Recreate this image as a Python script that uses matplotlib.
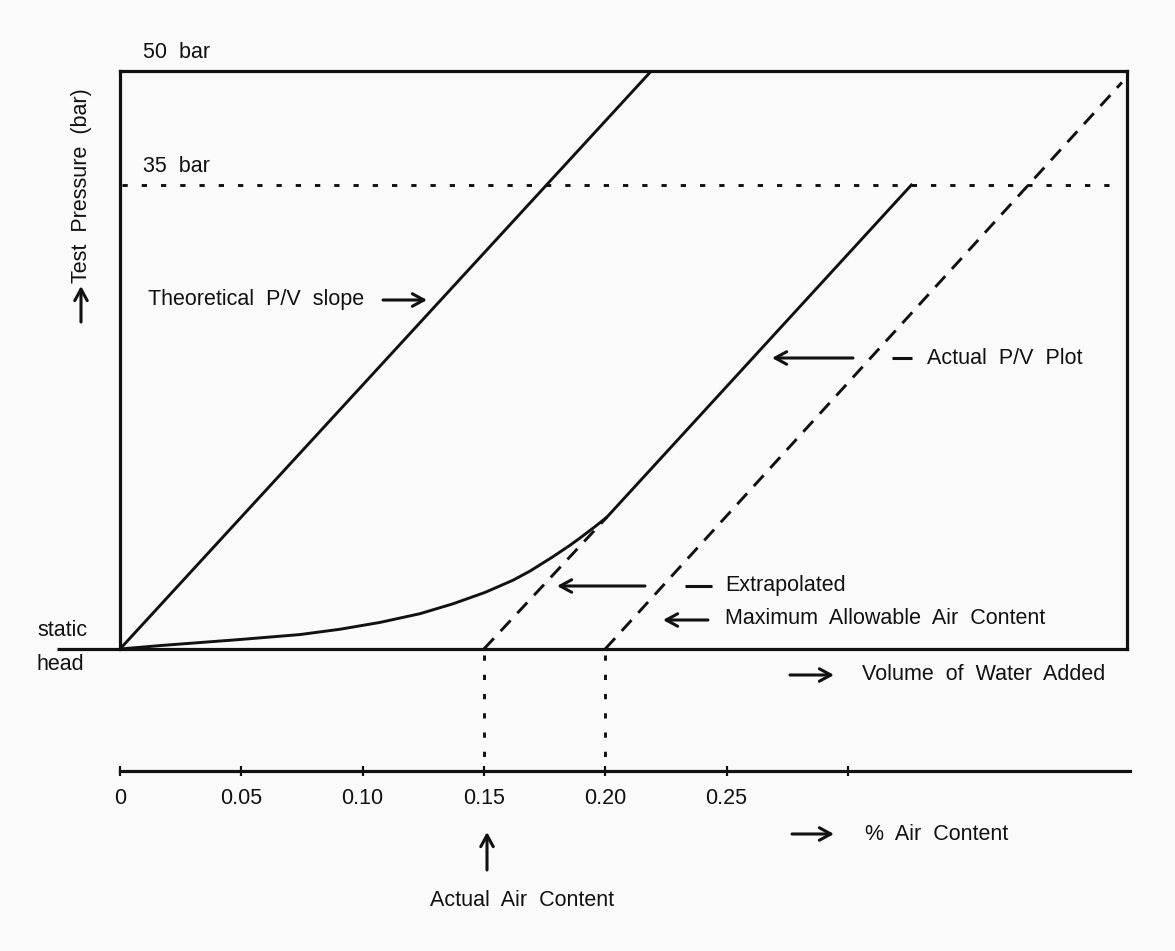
import matplotlib
matplotlib.use("Agg")
import matplotlib.pyplot as plt
from matplotlib.lines import Line2D
from matplotlib.patches import FancyArrowPatch
from matplotlib.transforms import blended_transform_factory

W, H, DPI = 1175, 951, 100

# Pressure levels (bar) on a linear schematic scale
p_static = -26.05
p_test = 35
p_top = 50

# % air content scale
air_ticks = [0, 0.05, 0.10, 0.15, 0.20, 0.25, 0.30]
air_labels = ["0", "0.05", "0.10", "0.15", "0.20", "0.25", ""]

# Theoretical pressure / volume slope
theory_x = [0.0, 0.219]
theory_p = [p_static, p_top]

# Measured pressure / volume curve
actual_x = [0.0, 0.0165, 0.0495, 0.0742, 0.0907, 0.1072, 0.1237, 0.1373, 0.1505,
            0.162, 0.169, 0.1785, 0.1855, 0.1896, 0.1958, 0.2007, 0.3262]
actual_p = [p_static, -25.6, -24.8, -24.15, -23.45, -22.55, -21.4, -20.1, -18.6,
            -17.0, -15.8, -13.9, -12.4, -11.45, -9.95, -8.7, p_test]

# Straight part of the measured curve extended back to static head
extrap_x = [0.15, 0.2007]
extrap_p = [p_static, -8.7]

# Slope through the maximum allowable air content
maxair_x = [0.20, 0.413]
maxair_p = [p_static, 48.5]

actual_air = 0.15
max_air = 0.20

INK = "#111111"
FONT = "Liberation Sans"
FS = 15.5
LW = 2.1

plt.rcParams["font.family"] = [FONT, "DejaVu Sans"]

fig = plt.figure(figsize=(W / DPI, H / DPI), dpi=DPI, facecolor="#fafafa")


def fx(px):
    return px / W


def fy(py):
    return 1 - py / H


PX_PER_UNIT = 2426.0
box_l, box_r, box_t, box_b = 120, 1127, 71, 649
scale_y = 771

ax = fig.add_axes([fx(box_l), fy(box_b), (box_r - box_l) / W, (box_b - box_t) / H])
ax.set_xlim(0, (box_r - box_l) / PX_PER_UNIT)
ax.set_ylim(p_static, p_top)
ax.set_facecolor("none")
ax.set_xticks([])
ax.set_yticks([])
for s in ax.spines.values():
    s.set_linewidth(2.3)
    s.set_color(INK)

# static head baseline extends to the left of the frame
ax.plot([-63 / PX_PER_UNIT, 0], [p_static, p_static], color=INK, lw=2.3,
        clip_on=False, solid_capstyle="butt")

# 35 bar test pressure
ax.plot([0.001, 0.413], [p_test, p_test], color=INK, lw=LW,
        dashes=(1.8, 4.8), solid_capstyle="butt", dash_capstyle="butt")

ax.plot(theory_x, theory_p, color=INK, lw=LW, solid_capstyle="round")
ax.plot(actual_x, actual_p, color=INK, lw=LW, solid_joinstyle="round")
ax.plot(extrap_x, extrap_p, color=INK, lw=LW, dashes=(5.0, 3.4))
ax.plot(maxair_x, maxair_p, color=INK, lw=LW, dashes=(5.0, 3.4))

# drop lines from the frame to the % air content scale
drop = blended_transform_factory(ax.transData, fig.transFigure)
for v in (actual_air, max_air):
    ax.plot([v, v], [fy(box_b + 6), fy(scale_y)], transform=drop, color=INK,
            lw=LW, dashes=(1.8, 4.8), clip_on=False)

# % air content scale
ax2 = fig.add_axes([fx(box_l), fy(scale_y), (1130 - box_l) / W, 0.0001])
ax2.set_xlim(0, (1130 - box_l) / PX_PER_UNIT)
ax2.set_facecolor("none")
for k in ("top", "left", "right"):
    ax2.spines[k].set_visible(False)
ax2.spines["bottom"].set_linewidth(2.3)
ax2.spines["bottom"].set_color(INK)
ax2.set_yticks([])
ax2.set_xticks(air_ticks)
ax2.set_xticklabels(air_labels, fontsize=FS, family=FONT)
ax2.tick_params(axis="x", direction="inout", length=7, width=1.6, pad=9, colors=INK)


def label(px, py, s, ha="left", va="center", **kw):
    fig.text(fx(px), fy(py), s, ha=ha, va=va, fontsize=kw.pop("fontsize", FS),
             color=INK, **kw)


def arrow(x0, y0, x1, y1):
    fig.add_artist(FancyArrowPatch(
        (fx(x0), fy(y0)), (fx(x1), fy(y1)), transform=fig.transFigure,
        arrowstyle="->,head_length=0.55,head_width=0.3", mutation_scale=15,
        lw=2.2, color=INK, shrinkA=0, shrinkB=0))


def dash(x0, x1, y):
    fig.add_artist(Line2D([fx(x0), fx(x1)], [fy(y), fy(y)], transform=fig.transFigure,
                          color=INK, lw=2.2, solid_capstyle="butt"))


label(143, 52, "50  bar")
label(143, 166, "35  bar")
label(37, 631, "static")
label(37, 664, "head")

label(81, 88, "Test  Pressure  (bar)", ha="center", va="top", rotation=90)
arrow(81, 322, 81, 286)

label(148, 300, "Theoretical  P/V  slope")
arrow(383, 300, 427, 300)

label(927, 358, "Actual  P/V  Plot")
arrow(853, 358, 772, 358)
dash(892, 912, 358)

label(725, 585, "Extrapolated")
arrow(645, 586, 557, 586)
dash(685, 712, 586)

label(725, 618, "Maximum  Allowable  Air  Content")
arrow(708, 620, 663, 620)

label(862, 675, "Volume  of  Water  Added")
arrow(790, 675, 834, 675)

label(865, 834, "%  Air  Content")
arrow(792, 834, 834, 834)

arrow(487, 870, 487, 832)
label(522, 900, "Actual  Air  Content", ha="center")

fig.savefig("out.png", dpi=DPI, facecolor=fig.get_facecolor())
